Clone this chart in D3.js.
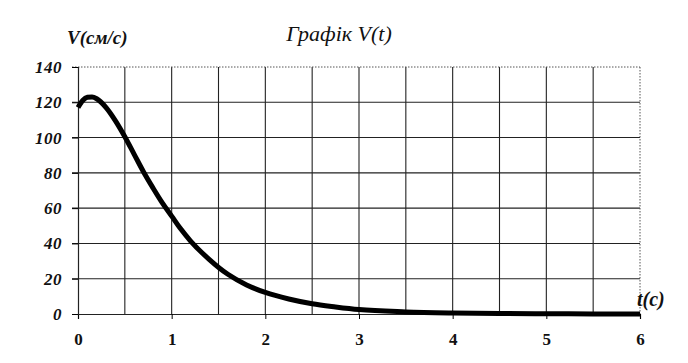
<!DOCTYPE html>
<html><head><meta charset="utf-8">
<script src="https://cdn.jsdelivr.net/npm/d3@7"></script>
<style>body{margin:0;background:#fff}</style>
</head><body>
<script>
const tValues = [0, 0.05, 0.1, 0.15, 0.2, 0.3, 0.4, 0.5, 0.6, 0.7, 0.8, 0.9, 1.0, 1.1, 1.2, 1.4, 1.6, 1.8, 2.0, 2.25, 2.5, 2.75, 3.0, 3.5, 4, 4.5, 5, 5.5, 6];
const vValues = [117, 121, 122.8, 123, 122, 117, 109.5, 100.5, 90.5, 80.5, 71.5, 63, 55.5, 48, 41.5, 31, 22.5, 16.5, 12.2, 8.5, 5.8, 4, 2.5, 1.2, 0.6, 0.3, 0.15, 0.05, 0];
const xTicks = [0, 1, 2, 3, 4, 5, 6];
const yTicks = [0, 20, 40, 60, 80, 100, 120, 140];
const xGrid = [0.5, 1, 1.5, 2, 2.5, 3, 3.5, 4, 4.5, 5, 5.5];
const yGrid = [20, 40, 60, 80, 100, 120];

const W = 688, H = 363;
const svg = d3.select("body").append("svg").attr("width", W).attr("height", H)
  .style("font-family", '"Liberation Serif"');
const x = d3.scaleLinear().domain([0, 6]).range([78, 640]);
const y = d3.scaleLinear().domain([0, 140]).range([314, 67]);

// grid
svg.append("g").selectAll("line").data(xGrid).join("line")
  .attr("x1", d => x(d)).attr("x2", d => x(d)).attr("y1", y(140)).attr("y2", y(0))
  .attr("stroke", "#222").attr("stroke-width", 1.1);
svg.append("g").selectAll("line").data(yGrid).join("line")
  .attr("x1", x(0) - 6).attr("x2", x(6)).attr("y1", d => y(d)).attr("y2", d => y(d))
  .attr("stroke", "#222").attr("stroke-width", 1.1);
// border top & right dotted
svg.append("line").attr("x1", x(0) - 6).attr("x2", x(6)).attr("y1", y(140)).attr("y2", y(140))
  .attr("stroke", "#555").attr("stroke-dasharray", "1.5,1.5");
svg.append("line").attr("x1", x(6)).attr("x2", x(6)).attr("y1", y(140)).attr("y2", y(0))
  .attr("stroke", "#555").attr("stroke-dasharray", "1.5,1.5");

// axes
const xAxis = svg.append("g").attr("transform", `translate(0,${y(0)})`)
  .call(d3.axisBottom(x).tickValues(xTicks).tickSize(5).tickPadding(14).tickFormat(d3.format("d")));
xAxis.attr("font-family", null).attr("font-size", null);
xAxis.select(".domain").attr("stroke", "#222").attr("stroke-width", 1.2);
xAxis.selectAll("text").style("font-family", '"Liberation Serif"').style("font-weight", "bold").style("font-size", "17px").attr("fill", "#111");

const yAxis = svg.append("g").attr("transform", `translate(${x(0)},0)`)
  .call(d3.axisLeft(y).tickValues(yTicks).tickSize(6).tickPadding(10).tickFormat(d3.format("d")));
yAxis.attr("font-family", null).attr("font-size", null);
yAxis.select(".domain").attr("stroke", "#222").attr("stroke-width", 1.2);
yAxis.selectAll("text").style("font-family", '"Liberation Serif"').style("font-weight", "bold").style("font-style", "italic")
  .style("font-size", "17px").attr("fill", "#111").style("letter-spacing", "0.5px");

// curve
const data = tValues.map((t, i) => [t, vValues[i]]);
svg.append("path").datum(data)
  .attr("fill", "none").attr("stroke", "#000").attr("stroke-width", 5).attr("stroke-linejoin", "round")
  .attr("d", d3.line().x(d => x(d[0])).y(d => y(d[1])).curve(d3.curveMonotoneX));

// texts
const labels = [
  {text: "Графік V(t)", x: 339, y: 41, anchor: "middle", size: "22px", weight: "normal"},
  {text: "V(см/с)", x: 67, y: 44, anchor: "start", size: "19px", weight: "bold"},
  {text: "t(c)", x: 637, y: 306, anchor: "start", size: "20px", weight: "bold"}
];
svg.append("g").selectAll("text").data(labels).join("text")
  .attr("x", d => d.x).attr("y", d => d.y).attr("text-anchor", d => d.anchor)
  .style("font-family", '"Liberation Serif"').style("font-style", "italic")
  .style("font-weight", d => d.weight).style("font-size", d => d.size).attr("fill", "#111")
  .text(d => d.text);
</script>
</body></html>
